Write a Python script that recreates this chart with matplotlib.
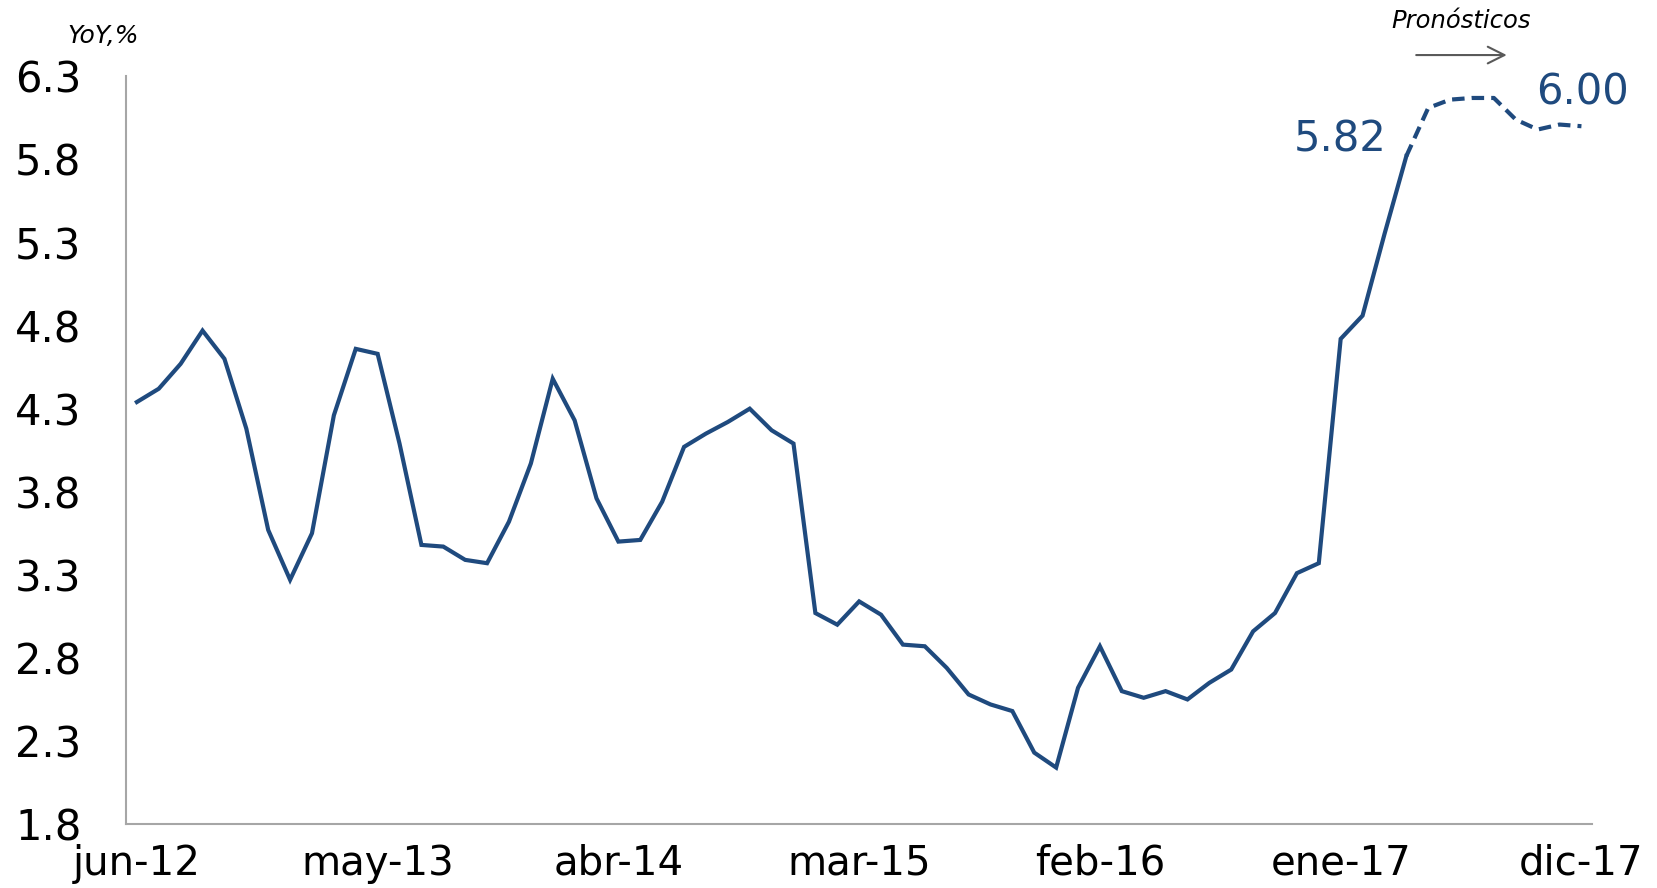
import matplotlib as mpl
mpl.use('Agg')
import matplotlib.pyplot as plt

# monthly YoY %, jun-12 .. may-17 observed, then forecasts to dic-17
months = ['jun-12', 'may-13', 'abr-14', 'mar-15', 'feb-16', 'ene-17', 'dic-17']
tick_pos = [0, 11, 22, 33, 44, 55, 66]

actual = [4.34, 4.42, 4.57, 4.77, 4.60, 4.18, 3.57, 3.27, 3.55, 4.26,
          4.66, 4.63, 4.09, 3.48, 3.47, 3.39, 3.37, 3.62, 3.97, 4.48,
          4.23, 3.76, 3.50, 3.51, 3.74, 4.07, 4.15, 4.22, 4.30, 4.17,
          4.09, 3.07, 3.00, 3.14, 3.06, 2.88, 2.87, 2.74, 2.58, 2.52,
          2.48, 2.23, 2.14, 2.62, 2.87, 2.60, 2.56, 2.60, 2.55, 2.65,
          2.73, 2.96, 3.07, 3.31, 3.37, 4.72, 4.86, 5.35, 5.82]
forecast = [5.82, 6.11, 6.16, 6.17, 6.17, 6.04, 5.98, 6.01, 6.00]

yticks = [1.8, 2.3, 2.8, 3.3, 3.8, 4.3, 4.8, 5.3, 5.8, 6.3]

blue = '#1F4A7E'
gray = '#A6A6A6'

fig = plt.figure(figsize=(16.57, 8.88), dpi=100)
ax = fig.add_axes([0.076, 0.072, 0.885, 0.842])

x_act = list(range(len(actual)))
x_fc = list(range(len(actual) - 1, len(actual) - 1 + len(forecast)))
ax.plot(x_act, actual, color=blue, lw=3, solid_joinstyle='miter')
ax.plot(x_fc, forecast, color=blue, lw=3, dashes=(3, 1.7))

ax.set_xlim(-0.5, 66.5)
ax.set_ylim(1.8, 6.3)
ax.set_yticks(yticks)
ax.set_yticklabels([f'{v:.1f}' for v in yticks])
ax.set_xticks(tick_pos)
ax.set_xticklabels(months)
ax.tick_params(axis='y', length=0, pad=32, labelsize=30)
ax.tick_params(axis='x', length=0, pad=14, labelsize=29)

for s in ['top', 'right']:
    ax.spines[s].set_visible(False)
for s in ['left', 'bottom']:
    ax.spines[s].set_color(gray)
    ax.spines[s].set_linewidth(1.5)

ax.annotate(f'{actual[-1]:.2f}', xy=(len(actual) - 1, actual[-1]),
            xytext=(-14, 12), textcoords='offset points',
            ha='right', va='center', fontsize=30, color=blue)
ax.annotate(f'{forecast[-1]:.2f}', xy=(x_fc[-1], forecast[-1]),
            xytext=(1, 24), textcoords='offset points',
            ha='center', va='center', fontsize=30, color=blue)

fig.text(0.0625, 0.96, 'YoY,%', fontsize=18, style='italic', ha='center', va='center')
fig.text(0.882, 0.976, 'Pronósticos', fontsize=17.5, style='italic', ha='center', va='center')
fig.add_artist(mpl.patches.FancyArrowPatch((0.853, 0.938), (0.911, 0.938),
                                           transform=fig.transFigure,
                                           arrowstyle='->,head_length=12,head_width=6',
                                           color='#595959', lw=1.5))

fig.savefig('out.png', dpi=100)
